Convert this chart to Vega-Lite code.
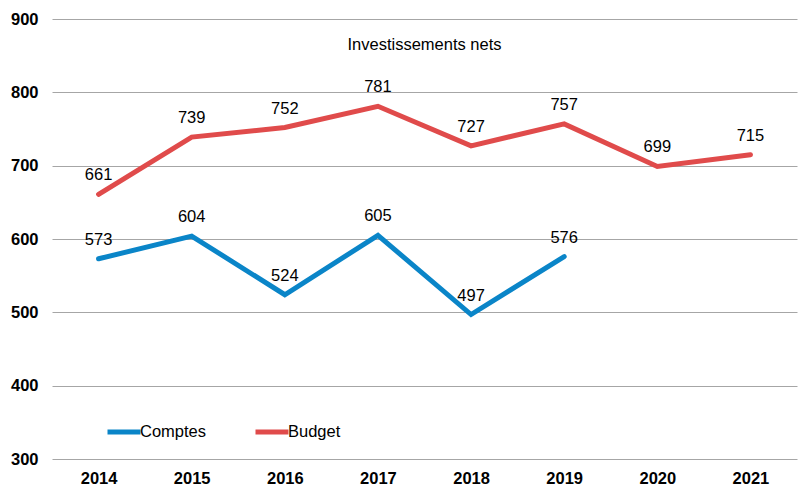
{
  "$schema": "https://vega.github.io/schema/vega-lite/v6.json",
  "width": 745,
  "height": 440,
  "autosize": {"type": "none"},
  "padding": {"left": 52, "top": 19, "right": 1, "bottom": 26},
  "background": "white",
  "config": {
    "font": "Liberation Sans",
    "view": {"stroke": null}
  },
  "title": {
    "text": "Investissements nets",
    "orient": "top",
    "anchor": "middle",
    "offset": -42,
    "fontSize": 16.5,
    "fontWeight": "normal",
    "color": "#000000",
    "font": "Liberation Sans"
  },
  "data": {
    "values": [
      {"annee": "2014", "serie": "Comptes", "valeur": 573},
      {"annee": "2015", "serie": "Comptes", "valeur": 604},
      {"annee": "2016", "serie": "Comptes", "valeur": 524},
      {"annee": "2017", "serie": "Comptes", "valeur": 605},
      {"annee": "2018", "serie": "Comptes", "valeur": 497},
      {"annee": "2019", "serie": "Comptes", "valeur": 576},
      {"annee": "2014", "serie": "Budget", "valeur": 661},
      {"annee": "2015", "serie": "Budget", "valeur": 739},
      {"annee": "2016", "serie": "Budget", "valeur": 752},
      {"annee": "2017", "serie": "Budget", "valeur": 781},
      {"annee": "2018", "serie": "Budget", "valeur": 727},
      {"annee": "2019", "serie": "Budget", "valeur": 757},
      {"annee": "2020", "serie": "Budget", "valeur": 699},
      {"annee": "2021", "serie": "Budget", "valeur": 715}
    ]
  },
  "encoding": {
    "x": {
      "field": "annee",
      "type": "ordinal",
      "scale": {"type": "point", "padding": 0.5},
      "axis": {
        "title": null,
        "labelAngle": 0,
        "labelFontSize": 16.5,
        "labelFontWeight": "bold",
        "labelColor": "#000000",
        "labelPadding": 11,
        "ticks": false,
        "domain": false,
        "grid": false
      }
    },
    "y": {
      "field": "valeur",
      "type": "quantitative",
      "scale": {"domain": [300, 900], "nice": false, "zero": false},
      "axis": {
        "title": null,
        "values": [300, 400, 500, 600, 700, 800, 900],
        "labelFontSize": 16.5,
        "labelFontWeight": "bold",
        "labelColor": "#000000",
        "labelPadding": 14,
        "ticks": false,
        "domain": false,
        "grid": true,
        "gridColor": "#A6A6A6",
        "gridWidth": 1
      }
    },
    "color": {
      "field": "serie",
      "type": "nominal",
      "scale": {"domain": ["Comptes", "Budget"], "range": ["#0A85C8", "#E04B4B"]},
      "legend": {
        "title": null,
        "orient": "none",
        "legendX": 53,
        "legendY": 394,
        "direction": "horizontal",
        "symbolType": "stroke",
        "symbolSize": 1089,
        "symbolStrokeWidth": 5,
        "labelFontSize": 16.5,
        "labelColor": "#000000",
        "labelOffset": -3,
        "columnPadding": 38,
        "symbolOffset": 0
      }
    }
  },
  "layer": [
    {
      "mark": {"type": "line", "strokeWidth": 5, "strokeCap": "round", "strokeJoin": "miter"}
    },
    {
      "mark": {"type": "text", "dy": -19, "fontSize": 16.5, "color": "#000000"},
      "encoding": {
        "text": {"field": "valeur", "type": "quantitative"},
        "color": {"value": "#000000"}
      }
    }
  ]
}
